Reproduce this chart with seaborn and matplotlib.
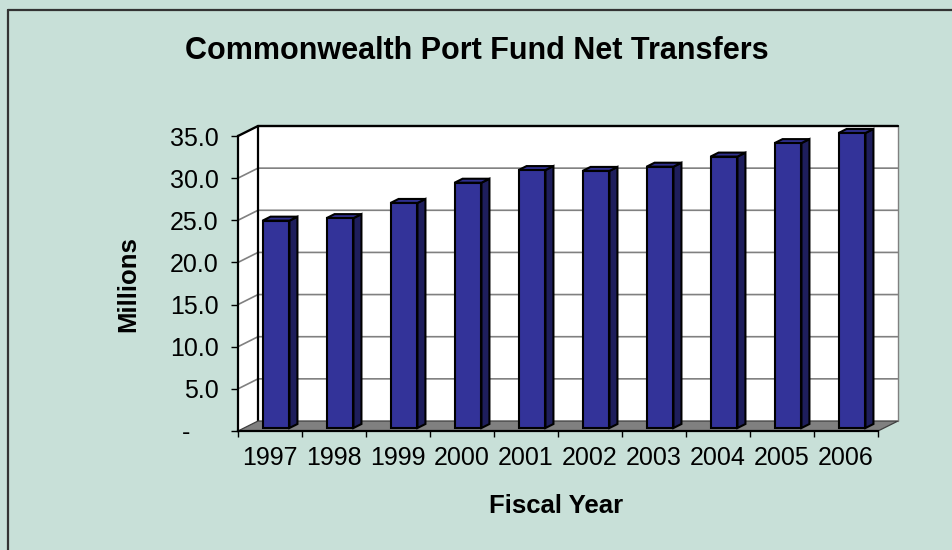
import numpy as np
import pandas as pd
import matplotlib
matplotlib.use("Agg")
import matplotlib.pyplot as plt
import seaborn as sns
from matplotlib.patches import Polygon
from matplotlib.lines import Line2D
from matplotlib.transforms import IdentityTransform, ScaledTranslation

# ---- data -------------------------------------------------------------
years = ["1997", "1998", "1999", "2000", "2001",
         "2002", "2003", "2004", "2005", "2006"]
transfers = [24.6, 24.9, 26.7, 29.1, 30.6, 30.5, 31.0, 32.2, 33.8, 35.0]
y_ticks = [0, 5, 10, 15, 20, 25, 30, 35]
y_tick_labels = ["-    ", "5.0", "10.0", "15.0", "20.0", "25.0", "30.0", "35.0"]

title = "Commonwealth Port Fund Net Transfers"
x_title = "Fiscal Year"
y_title = "Millions"

# ---- style ------------------------------------------------------------
BG = "#C8E0D8"
FRONT = "#333399"
SIDE = "#1E1E5C"
TOP = "#30308F"
FLOOR = "#808080"
GRID = "#808080"
DPI = 100
W, H = 953, 550

sns.set_style("white")
plt.rcParams["font.family"] = ["Liberation Sans", "DejaVu Sans"]
plt.rcParams["text.color"] = "black"
plt.rcParams["axes.labelcolor"] = "black"

fig = plt.figure(figsize=(W / DPI, H / DPI), dpi=DPI, facecolor=BG)
ax = fig.add_axes([238 / W, 119 / H, 640 / W, 295 / H])
ax.patch.set_visible(False)

EDGE_LW = 1.5
df = pd.DataFrame({x_title: years, y_title: transfers})
sns.barplot(data=df, x=x_title, y=y_title, color=FRONT, saturation=1,
            width=0.42, edgecolor="black", linewidth=EDGE_LW, ax=ax, zorder=6)

ax.set_xlim(-0.5, len(years) - 0.5)
ax.set_ylim(0, 35)

# depth of the 3-D box, in pixels (right, up)
DEPTH = np.array([20.0, 10.0])
F0, F1 = 0.3, 0.7  # bar front / back as fractions of the depth


def proj(x, y, d):
    return ax.transData.transform((x, y)) + d * DEPTH


def face(pts, **kw):
    p = Polygon(pts, closed=True, transform=IdentityTransform(),
                clip_on=False, **kw)
    ax.add_patch(p)
    return p


def seg(pts, **kw):
    pts = np.asarray(pts)
    ln = Line2D(pts[:, 0], pts[:, 1], transform=IdentityTransform(),
                clip_on=False, **kw)
    ax.add_line(ln)
    return ln


x0, x1 = ax.get_xlim()
y0, y1 = ax.get_ylim()

# walls and floor
face([proj(x0, y0, 1), proj(x1, y0, 1), proj(x1, y1, 1), proj(x0, y1, 1)],
     facecolor="white", edgecolor="none", zorder=0)
face([proj(x0, y0, 0), proj(x0, y0, 1), proj(x0, y1, 1), proj(x0, y1, 0)],
     facecolor="white", edgecolor="none", zorder=0)
for t in y_ticks[1:-1]:
    seg([proj(x0, t, 0), proj(x0, t, 1), proj(x1, t, 1)],
        color=GRID, lw=1.2, zorder=1)
seg([proj(x1, y0, 1), proj(x1, y1, 1)], color=GRID, lw=1.0, zorder=1)
seg([proj(x0, y1, 0), proj(x0, y1, 1), proj(x1, y1, 1)],
    color="black", lw=1.7, zorder=2, solid_joinstyle="miter")
seg([proj(x0, y0, 1), proj(x0, y1, 1)], color="black", lw=1.6, zorder=2)
face([proj(x0, y0, 0), proj(x1, y0, 0), proj(x1, y0, 1), proj(x0, y0, 1)],
     facecolor=FLOOR, edgecolor="#404040", lw=0.9, zorder=3)

# 3-D bars: shift the seaborn bars to their depth and add side and top faces
shift = ScaledTranslation(F0 * DEPTH[0] / DPI, F0 * DEPTH[1] / DPI,
                          fig.dpi_scale_trans)
for bar in list(ax.patches):
    if not hasattr(bar, "get_x") or bar.get_zorder() != 6:
        continue
    bx, bw, bh = bar.get_x(), bar.get_width(), bar.get_height()
    face([proj(bx + bw, 0, F0), proj(bx + bw, 0, F1),
          proj(bx + bw, bh, F1), proj(bx + bw, bh, F0)],
         facecolor=SIDE, edgecolor="black", lw=EDGE_LW, zorder=5,
         joinstyle="miter")
    face([proj(bx, bh, F0), proj(bx + bw, bh, F0),
          proj(bx + bw, bh, F1), proj(bx, bh, F1)],
         facecolor=TOP, edgecolor="black", lw=EDGE_LW, zorder=5,
         joinstyle="miter")
    bar.set_transform(ax.transData + shift)
    bar.set_clip_on(False)
    bar.set_joinstyle("miter")

# axes, ticks, labels
for s in ("top", "right"):
    ax.spines[s].set_visible(False)
for s in ("left", "bottom"):
    ax.spines[s].set_color("black")
    ax.spines[s].set_linewidth(1.6)
    ax.spines[s].set_zorder(4)

ax.set_yticks(y_ticks)
ax.set_yticklabels(y_tick_labels)
ax.tick_params(axis="y", which="major", direction="out", length=5, width=1,
               color="black", pad=9.0, labelsize=18, labelcolor="black", left=True)
ax.set_xticks(np.arange(x0, x1 + 0.01, 1.0))
ax.set_xticklabels([])
ax.set_xticks(np.arange(len(years)), minor=True)
ax.set_xticklabels(years, minor=True)
ax.tick_params(axis="x", which="major", direction="out", length=4.5, width=1,
               color="black", bottom=True)
ax.tick_params(axis="x", which="minor", length=0, pad=11.0, labelsize=18,
               labelcolor="black")

ax.set_xlabel(x_title, fontsize=18.5, fontweight="bold", ha="center",
              va="center", color="black")
ax.xaxis.set_label_coords((556 - 238) / 640, (H - 506 - 119) / 295)
ax.set_ylabel(y_title, fontsize=18.5, fontweight="bold", ha="center",
              va="center", color="black")
ax.yaxis.set_label_coords((128 - 238) / 640, (H - 284 - 119) / 295)

fig.text(477 / W, (H - 59) / H, title, fontsize=22, fontweight="bold",
         ha="center", va="baseline", color="black")

# chart-area frame
fig.add_artist(Line2D([8 / W, 8 / W], [0, (H - 10) / H],
                      transform=fig.transFigure, color="#333333", lw=1.6))
fig.add_artist(Line2D([8 / W, 1], [(H - 10) / H, (H - 10) / H],
                      transform=fig.transFigure, color="#333333", lw=1.6))

fig.savefig("out.png", dpi=DPI, facecolor=BG)
